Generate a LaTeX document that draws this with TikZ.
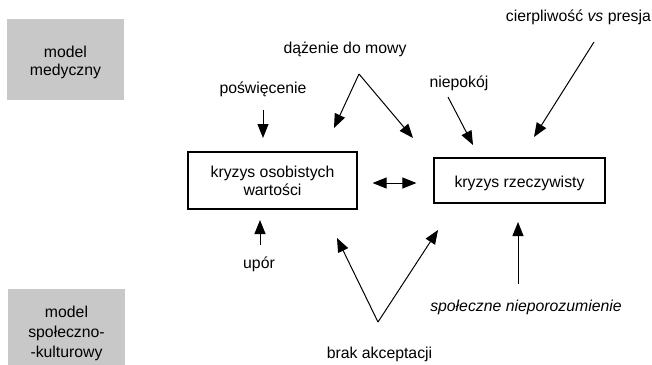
\documentclass[tikz,border=0pt]{standalone}
\usepackage{fontspec}
\setmainfont{Liberation Sans}
\usetikzlibrary{arrows.meta}
\definecolor{boxgray}{RGB}{200,200,200}
\begin{document}
\begin{tikzpicture}[x=1pt,y=-1pt,
  font=\fontsize{15.8}{18}\selectfont,
  arr/.style={-{Triangle[length=14pt,width=11pt]}, line width=1pt},
  dblarr/.style={{Triangle[length=14pt,width=11pt]}-{Triangle[length=14pt,width=11pt]}, line width=1pt},
  modelbox/.style={fill=boxgray, inner sep=0pt, align=center},
  crisis/.style={draw, line width=1.2pt, inner sep=0pt, align=center},
  lbl/.style={inner sep=0pt, anchor=base}]
\useasboundingbox (0,0) rectangle (652,364);
% model boxes
\node[modelbox, minimum width=117pt, minimum height=81pt] (med) at (65.5,59.5) {};
\node[inner sep=0pt, align=center, font=\fontsize{15.8}{18}\selectfont] (medt) at (65.5,62) {model\\medyczny};
\node[modelbox, minimum width=117pt, minimum height=76pt] (soc) at (66.5,327) {};
\node[inner sep=0pt, align=center, font=\fontsize{15.8}{20}\selectfont] (soct) at (66.5,333) {model\\społeczno-\\-kulturowy};
% crisis boxes
\node[crisis, minimum width=169pt, minimum height=57pt] (b1) at (272.5,180.5) {kryzys osobistych\\wartości};
\node[crisis, minimum width=171pt, minimum height=45pt] (b2) at (519.5,180.5) {};
\node[inner sep=0pt] (b2t) at (519.5,183) {kryzys rzeczywisty};
% labels
\node[lbl] (dazenie) at (345,53) {dążenie do mowy};
\node[lbl] (poswiecenie) at (263,93) {poświęcenie};
\node[lbl] (niepokoj) at (459,87) {niepokój};
\node[lbl, anchor=base east] (cierp) at (651,21) {cierpliwość \textit{vs} presja};
\node[lbl] (upor) at (259,268) {upór};
\node[lbl, font=\fontsize{15.8}{18}\selectfont\itshape] (spol) at (526,311) {społeczne nieporozumienie};
\node[lbl] (brak) at (379.5,358) {brak akceptacji};
% coordinates
\coordinate (vtop) at (359,74);
\coordinate (vtopL) at (334,128);
\coordinate (vtopR) at (413,138);
\coordinate (vbot) at (378,322);
\coordinate (vbotL) at (337,238);
\coordinate (vbotR) at (438,230);
\coordinate (posS) at (263,110);
\coordinate (posE) at (263,138);
\coordinate (upS) at (260,245);
\coordinate (upE) at (260,220);
\coordinate (niS) at (448,97);
\coordinate (niE) at (473,145);
\coordinate (ciS) at (594,42);
\coordinate (ciE) at (534,137);
\coordinate (spS) at (518,284);
\coordinate (spE) at (518,222);
% connectors
\draw[arr] (vtop) -- (vtopL);
\draw[arr] (vtop) -- (vtopR);
\draw[arr] (vbot) -- (vbotL);
\draw[arr] (vbot) -- (vbotR);
\draw[arr] (posS) -- (posE);
\draw[arr] (upS) -- (upE);
\draw[arr] (niS) -- (niE);
\draw[arr] (ciS) -- (ciE);
\draw[arr] (spS) -- (spE);
\draw[dblarr, shorten <=15pt, shorten >=17pt] (b1.east |- 0,183) -- (b2.west |- 0,183);
\end{tikzpicture}
\end{document}
